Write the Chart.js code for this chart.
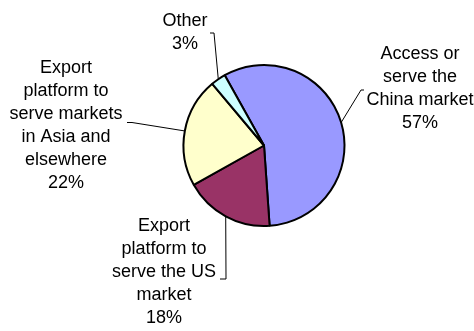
<!DOCTYPE html>
<html>
<head>
<meta charset="utf-8">
<script src="https://cdn.jsdelivr.net/npm/chart.js@4/dist/chart.umd.min.js"></script>
<style>
  html, body { margin: 0; padding: 0; background: #ffffff; }
  #wrap { position: relative; width: 474px; height: 331px; }
</style>
</head>
<body>
<div id="wrap"><canvas id="pie" width="474" height="331"></canvas></div>
<script>
// Motives for investing in China, share of responses
const categories = [
  'Access or serve the China market',
  'Export platform to serve the US market',
  'Export platform to serve markets in Asia and elsewhere',
  'Other'
];
// Wrapped label lines for each category
const labelLines = [
  ['Access or', 'serve the', 'China market'],
  ['Export', 'platform to', 'serve the US', 'market'],
  ['Export', 'platform to', 'serve markets', 'in Asia and', 'elsewhere'],
  ['Other']
];
const values = [57, 18, 22, 3];
const sliceColors = ['#9999FF', '#993366', '#FFFFCC', '#CCFFFF'];

// Label placement: text centre x, first baseline y, and leader elbow points
const labelLayout = [
  { x: 420, y: 59,  elbow: [361, 90],  tip: [364, 90] },
  { x: 164, y: 231, elbow: [226, 279], tip: [220, 279] },
  { x: 66,  y: 73,  elbow: [132, 122.5], tip: [127, 122.5] },
  { x: 185, y: 26,  elbow: [214, 33],  tip: [210, 33] }
];
const LINE_H = 23;
const FONT = '18px "Liberation Sans", Arial, sans-serif';

const total = values.reduce((a, b) => a + b, 0);

const calloutLabels = {
  id: 'calloutLabels',
  afterDatasetsDraw(chart) {
    const ctx = chart.ctx;
    const meta = chart.getDatasetMeta(0);
    ctx.save();
    meta.data.forEach((arc, i) => {
      const p = arc.getProps(['x', 'y', 'startAngle', 'endAngle', 'outerRadius'], true);
      const mid = (p.startAngle + p.endAngle) / 2;
      const ex = p.x + Math.cos(mid) * p.outerRadius;
      const ey = p.y + Math.sin(mid) * p.outerRadius;
      const L = labelLayout[i];
      // leader line
      ctx.strokeStyle = '#000000';
      ctx.lineWidth = 1;
      ctx.beginPath();
      ctx.moveTo(ex, ey);
      ctx.lineTo(L.elbow[0], L.elbow[1]);
      ctx.lineTo(L.tip[0], L.tip[1]);
      ctx.stroke();
      // text
      const pct = Math.round(values[i] / total * 100) + '%';
      const lines = labelLines[i].concat([pct]);
      ctx.fillStyle = '#000000';
      ctx.font = FONT;
      ctx.textAlign = 'center';
      ctx.textBaseline = 'alphabetic';
      lines.forEach((t, k) => ctx.fillText(t, L.x, L.y + k * LINE_H));
    });
    ctx.restore();
  }
};

new Chart(document.getElementById('pie'), {
  type: 'pie',
  data: {
    labels: categories,
    datasets: [{
      data: values,
      backgroundColor: sliceColors,
      borderColor: '#000000',
      borderWidth: 2,
      radius: 80.5
    }]
  },
  options: {
    responsive: false,
    animation: false,
    rotation: -29.2,
    layout: { padding: { left: 54, right: 0, top: 0, bottom: 40 } },
    plugins: {
      legend: { display: false },
      tooltip: { enabled: false }
    }
  },
  plugins: [calloutLabels]
});
</script>
</body>
</html>
